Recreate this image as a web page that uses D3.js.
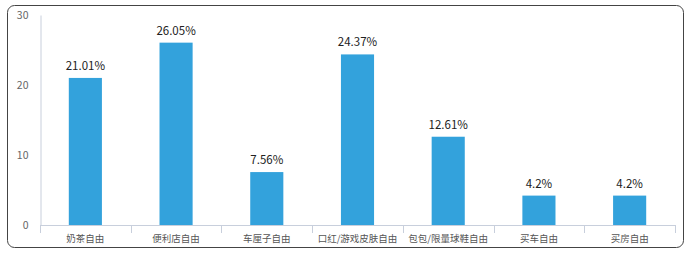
<!DOCTYPE html>
<html><head><meta charset="utf-8">
<script src="https://cdn.jsdelivr.net/npm/d3@7"></script>
<style>
body{margin:0;background:#fff;}
svg{display:block;}
</style></head>
<body><svg id="c" width="693" height="258"></svg>
<script>
const categories = ["奶茶自由","便利店自由","车厘子自由","口红/游戏皮肤自由","包包/限量球鞋自由","买车自由","买房自由"];
const values = [21.01, 26.05, 7.56, 24.37, 12.61, 4.2, 4.2];
const valueLabels = ["21.01%","26.05%","7.56%","24.37%","12.61%","4.2%","4.2%"];
const yTicks = [0, 10, 20, 30];

(function(){
const svg = d3.select("#c");
const font = "'Microsoft YaHei','Noto Sans CJK SC','Noto Sans',sans-serif";

svg.append("rect").attr("x",7.5).attr("y",5.5).attr("width",676).attr("height",242)
  .attr("rx",7).attr("fill","#fff").attr("stroke","#444").attr("stroke-width",1);

const mLeft = 40, mRight = 675, mTop = 15, mBottom = 225;
const x = d3.scaleBand().domain(categories).range([mLeft,mRight]).paddingInner(0.635).paddingOuter(0.3175);
const y = d3.scaleLinear().domain([0,30]).range([mBottom,mTop]);

const ya = svg.append("g").attr("transform",`translate(${mLeft+0.5},0)`)
  .call(d3.axisLeft(y).tickValues(yTicks).tickSize(0).tickPadding(12));
ya.select(".domain").attr("stroke","#c8cfdc");
ya.selectAll("text").attr("fill","#666").style("font-family",font).style("font-size","10.5px");

svg.append("line").attr("x1",mLeft).attr("x2",mRight).attr("y1",mBottom+0.5).attr("y2",mBottom+0.5)
  .attr("stroke","#c8cfdc");
const bounds = categories.map((c)=>x(c)-x.step()*x.paddingInner()/2);
bounds.push(mRight);
svg.selectAll(".xt").data(bounds).join("line")
  .attr("x1",d=>Math.round(d)+0.5).attr("x2",d=>Math.round(d)+0.5)
  .attr("y1",mBottom).attr("y2",mBottom+8).attr("stroke","#c8cfdc");

svg.selectAll(".cl").data(categories).join("text")
  .attr("x",d=>x(d)+x.bandwidth()/2).attr("y",241.5)
  .attr("text-anchor","middle").attr("fill","#555")
  .style("font-family",font).style("font-size","9.5px").text(d=>d);

svg.selectAll(".bar").data(values).join("rect")
  .attr("x",(d,i)=>x(categories[i])).attr("width",x.bandwidth())
  .attr("y",d=>y(d)).attr("height",d=>mBottom-y(d)).attr("fill","#33a2dc");

svg.selectAll(".vl").data(values).join("text")
  .attr("x",(d,i)=>x(categories[i])+x.bandwidth()/2).attr("y",d=>y(d)-8)
  .attr("text-anchor","middle").attr("fill","#222")
  .style("font-family",font).style("font-size","11.5px").text((d,i)=>valueLabels[i]);
})();
</script></body></html>
